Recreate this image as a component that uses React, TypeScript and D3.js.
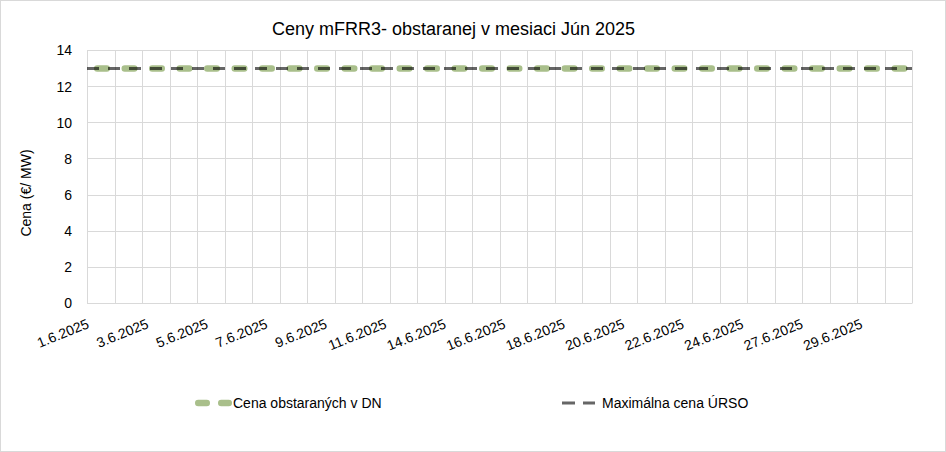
import React from "react";
import * as d3 from "d3";

const categories = [
  "1.6.2025", "2.6.2025", "3.6.2025", "4.6.2025", "5.6.2025", "6.6.2025",
  "7.6.2025", "8.6.2025", "9.6.2025", "10.6.2025", "11.6.2025", "12.6.2025",
  "13.6.2025", "14.6.2025", "15.6.2025", "16.6.2025", "17.6.2025", "18.6.2025",
  "19.6.2025", "20.6.2025", "21.6.2025", "22.6.2025", "23.6.2025", "24.6.2025",
  "25.6.2025", "26.6.2025", "27.6.2025", "28.6.2025", "29.6.2025", "30.6.2025",
];
const cenaObstaranych = [
  13, 13, 13, 13, 13, 13, 13, 13, 13, 13, 13, 13, 13, 13, 13,
  13, 13, 13, 13, 13, 13, 13, 13, 13, 13, 13, 13, 13, 13, 13,
];
const maxCenaUrso = [
  13, 13, 13, 13, 13, 13, 13, 13, 13, 13, 13, 13, 13, 13, 13,
  13, 13, 13, 13, 13, 13, 13, 13, 13, 13, 13, 13, 13, 13, 13,
];
const tickLabels = [
  "1.6.2025", "3.6.2025", "5.6.2025", "7.6.2025", "9.6.2025", "11.6.2025",
  "14.6.2025", "16.6.2025", "18.6.2025", "20.6.2025", "22.6.2025",
  "24.6.2025", "27.6.2025", "29.6.2025",
];
const yTicks = [0, 2, 4, 6, 8, 10, 12, 14];
const seriesNames = ["Cena obstaraných v DN", "Maximálna cena ÚRSO"];
const title = "Ceny mFRR3- obstaranej v mesiaci Jún 2025";
const yTitle = "Cena (€/ MW)";

const W = 946;
const H = 452;
const M = { left: 87, top: 50.5, right: 34, bottom: 148.5 };
const innerW = W - M.left - M.right; // 825
const innerH = H - M.top - M.bottom; // 253
const labelSpan = 773.5;
const FONT = "'Liberation Sans', Arial, sans-serif";
const GREEN = "#a9bf8b";
const GRID = "#d9d9d9";

export default function App() {
  const x = d3.scalePoint<string>().domain(categories).range([0, innerW]);
  const band = d3.scaleBand<string>().domain(categories).range([0, innerW]);
  const y = d3.scaleLinear().domain([0, 14]).range([innerH, 0]);
  const xl = d3.scalePoint<string>().domain(tickLabels).range([0, labelSpan]);

  const line = d3
    .line<number>()
    .x((_, i) => x(categories[i]) as number)
    .y((d) => y(d));

  const vGrid = [...categories.map((c) => band(c) as number), innerW];

  return (
    <svg
      width={W}
      height={H}
      style={{ position: "fixed", left: 0, top: 0, background: "#fff" }}
      fontFamily={FONT}
    >
      <rect x={0.5} y={0.5} width={W - 1} height={H - 1} fill="#fff" stroke={GRID} />
      <text x={453.5} y={35} textAnchor="middle" fontSize={18} fill="#000">
        {title}
      </text>
      <g transform={`translate(${M.left},${M.top})`}>
        {yTicks.map((t) => (
          <line
            key={"h" + t}
            x1={0}
            x2={innerW}
            y1={Math.round(y(t))}
            y2={Math.round(y(t))}
            stroke={GRID}
          />
        ))}
        {vGrid.map((v, i) => (
          <line
            key={"v" + i}
            x1={Math.round(v) + 0.5}
            x2={Math.round(v) + 0.5}
            y1={0}
            y2={innerH}
            stroke={GRID}
          />
        ))}
        {yTicks.map((t) => (
          <text
            key={"yt" + t}
            x={-15}
            y={y(t)}
            dy="0.35em"
            textAnchor="end"
            fontSize={14}
            fill="#000"
          >
            {t}
          </text>
        ))}
        {tickLabels.map((l) => (
          <text
            key={"xl" + l}
            transform={`translate(${(xl(l) as number) + 3},${innerH + 24}) rotate(-22)`}
            textAnchor="end"
            fontSize={14}
            fill="#000"
          >
            {l}
          </text>
        ))}
        <path
          d={line(cenaObstaranych) as string}
          fill="none"
          stroke={GREEN}
          strokeWidth={6.5}
          strokeLinecap="round"
          strokeDasharray="9.5 18"
          strokeDashoffset={17.25}
        />
        <path
          d={line(maxCenaUrso) as string}
          fill="none"
          stroke="#000"
          strokeOpacity={0.6}
          strokeWidth={3}
          strokeDasharray="12 9"
        />
      </g>
      <text
        transform={`translate(31,${M.top + innerH / 2 + 16}) rotate(-90)`}
        textAnchor="middle"
        fontSize={14}
        fill="#000"
      >
        {yTitle}
      </text>
      <g>
        <line
          x1={198.25}
          x2={228.75}
          y1={403}
          y2={403}
          stroke={GREEN}
          strokeWidth={6.5}
          strokeLinecap="round"
          strokeDasharray="8.5 14.5"
        />
        <text x={233} y={408} fontSize={14} fill="#000">
          {seriesNames[0]}
        </text>
        <line
          x1={562}
          x2={595}
          y1={403}
          y2={403}
          stroke="#000"
          strokeOpacity={0.6}
          strokeWidth={3}
          strokeDasharray="13 8"
        />
        <text x={602} y={408} fontSize={14} fill="#000">
          {seriesNames[1]}
        </text>
      </g>
    </svg>
  );
}
